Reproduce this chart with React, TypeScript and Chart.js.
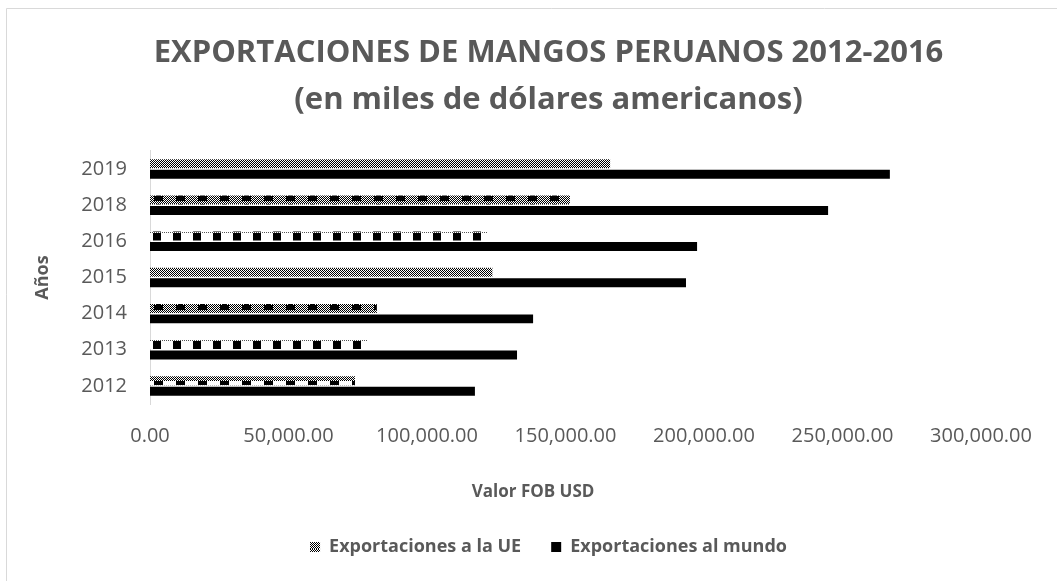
import React, { useEffect, useRef } from 'react';
import { Chart, registerables } from 'chart.js';

Chart.register(...registerables);

// ---- data ----
const categories = ['2019', '2018', '2016', '2015', '2014', '2013', '2012'];
const exportsEU = [166100, 151600, 121700, 123600, 81900, 78700, 74000];
const exportsWorld = [267100, 244800, 197500, 193500, 138300, 132500, 117300];
const seriesNames = ['Exportaciones a la UE', 'Exportaciones al mundo'];
const titleLines = ['EXPORTACIONES DE MANGOS PERUANOS 2012-2016', '(en miles de dólares americanos)'];
const xAxisTitle = 'Valor FOB USD';
const yAxisTitle = 'Años';
const xMin = 0;
const xMax = 300000;
const xStep = 50000;
const euPatternKinds = ['A', 'B', 'C', 'A', 'B', 'C', 'D'];

// ---- layout constants ----
const CW = 1097;
const CH = 581;
const BAR_H = 9;
const GRAY = '#595959';
const FONT = "'Open Sans', 'Noto Sans', sans-serif";

function makeTile(kind: string): HTMLCanvasElement {
  const w = kind === 'A' ? 2 : kind === 'C' ? 20 : 22;
  const c = document.createElement('canvas');
  c.width = w;
  c.height = BAR_H;
  const g = c.getContext('2d')!;
  g.fillStyle = '#ffffff';
  g.fillRect(0, 0, w, BAR_H);
  const px = (x: number, y: number, col: string) => {
    g.fillStyle = col;
    g.fillRect(x, y, 1, 1);
  };
  for (let y = 0; y < BAR_H; y++) {
    for (let x = 0; x < w; x++) {
      const chk = (x + y) % 2 === 0;
      if (kind === 'A') {
        if (chk) px(x, y, '#000');
      } else if (kind === 'B') {
        if (y >= 1 && y <= 5 && x >= 4 && x < 13) px(x, y, '#000');
        else if (y === 0 && x >= 6 && x < 11) px(x, y, '#000');
        else if (chk) px(x, y, '#000');
      } else if (kind === 'C') {
        if (y === 0) {
          if (x % 2 === 0) px(x, y, '#555');
        } else if (x >= 3 && x < 11) px(x, y, '#000');
      } else {
        if (y <= 4) {
          if (chk) px(x, y, '#000');
        } else if (x >= 4 && x < 13) px(x, y, '#000');
      }
    }
  }
  return c;
}

export default function App() {
  const ref = useRef<HTMLCanvasElement | null>(null);

  useEffect(() => {
    const canvas = ref.current;
    if (!canvas) return;
    const tmp = document.createElement('canvas').getContext('2d')!;
    const patterns = euPatternKinds.map((k) => tmp.createPattern(makeTile(k), 'repeat') as CanvasPattern);

    const framePlugin = {
      id: 'frame',
      beforeDraw(chart: any) {
        const ctx = chart.ctx;
        ctx.save();
        ctx.fillStyle = '#ffffff';
        ctx.fillRect(0, 0, chart.width, chart.height);
        ctx.strokeStyle = '#d9d9d9';
        ctx.lineWidth = 1;
        ctx.beginPath();
        ctx.moveTo(6.5, chart.height);
        ctx.lineTo(6.5, 8.5);
        ctx.lineTo(chart.width, 8.5);
        ctx.stroke();
        ctx.restore();
      },
    };

    const patternAlign = {
      id: 'patternAlign',
      beforeDatasetsDraw(chart: any) {
        const meta = chart.getDatasetMeta(0);
        meta.data.forEach((el: any, i: number) => {
          const p = patterns[i];
          if (!p || !(p as any).setTransform) return;
          const top = Math.round(el.y - el.height / 2);
          const left = Math.round(el.base);
          p.setTransform(new DOMMatrix([1, 0, 0, 1, left, top]));
        });
      },
    };

    // x axis title, placed slightly left of the plot centre as in the original
    const xTitlePlugin = {
      id: 'xTitle',
      afterDraw(chart: any) {
        const ctx = chart.ctx;
        const a = chart.chartArea;
        ctx.save();
        ctx.fillStyle = GRAY;
        ctx.font = `bold 17px ${FONT}`;
        ctx.textAlign = 'center';
        ctx.textBaseline = 'middle';
        ctx.fillText(xAxisTitle, a.left + (a.right - a.left) * 0.461, a.bottom + 88);
        ctx.restore();
      },
    };

    const chart = new Chart(canvas, {
      type: 'bar',
      data: {
        labels: categories,
        datasets: [
          {
            label: seriesNames[0],
            data: exportsEU,
            backgroundColor: patterns as any,
            borderWidth: 0,
            xAxisID: 'x',
            yAxisID: 'y',
            categoryPercentage: 0.58,
            barPercentage: 0.857,
          },
          {
            label: seriesNames[1],
            data: exportsWorld,
            backgroundColor: '#000000',
            borderWidth: 0,
            xAxisID: 'x',
            yAxisID: 'y',
            categoryPercentage: 0.58,
            barPercentage: 0.857,
          },
        ],
      },
      options: {
        indexAxis: 'y',
        responsive: false,
        animation: false,
        devicePixelRatio: 1,
        layout: { padding: { left: 0, right: 0, top: 0, bottom: 15 } },
        plugins: {
          title: {
            display: true,
            text: titleLines,
            color: GRAY,
            font: { family: FONT, size: 31, weight: 'bold', lineHeight: 1.516 },
            padding: { top: 29.5, bottom: 27.5 },
          },
          legend: {
            display: true,
            position: 'bottom',
            labels: {
              color: GRAY,
              font: { family: FONT, size: 18, weight: 'bold' },
              boxWidth: 10,
              boxHeight: 10,
              padding: 30,
            },
          },
          tooltip: { enabled: false },
        },
        scales: {
          x: {
            type: 'linear',
            position: 'bottom',
            min: xMin,
            max: xMax,
            grid: { display: false, drawTicks: false },
            border: { display: false },
            ticks: {
              stepSize: xStep,
              color: GRAY,
              padding: 20,
              font: { family: FONT, size: 20 },
              callback: (v: any) =>
                Number(v).toLocaleString('en-US', { minimumFractionDigits: 2, maximumFractionDigits: 2 }),
            },
            title: { display: false },
            afterFit: (s: any) => {
              s.height = 104;
            },
          },
          y: {
            type: 'category',
            position: 'left',
            grid: { display: false, drawTicks: false },
            border: { display: true, color: '#d9d9d9', width: 1 },
            ticks: {
              color: GRAY,
              padding: 23,
              font: { family: FONT, size: 20 },
            },
            title: {
              display: true,
              text: yAxisTitle,
              color: GRAY,
              font: { family: FONT, size: 18, weight: 'bold', lineHeight: 1.2 },
              padding: { top: 32, bottom: 0 },
            },
            afterFit: (s: any) => {
              s.width = 150;
            },
          },
          y2: {
            type: 'linear',
            position: 'right',
            display: true,
            grid: { display: false },
            border: { display: false },
            ticks: { display: false },
            afterFit: (s: any) => {
              s.width = CW - 981;
            },
          },
        },
      } as any,
      plugins: [framePlugin, patternAlign, xTitlePlugin],
    });

    return () => {
      chart.destroy();
    };
  }, []);

  return (
    <div
      style={{
        position: 'absolute',
        left: 0,
        top: 0,
        width: 1057,
        height: CH,
        overflow: 'hidden',
        background: '#ffffff',
      }}
    >
      <canvas ref={ref} width={CW} height={CH} style={{ width: CW, height: CH, display: 'block' }} />
    </div>
  );
}
